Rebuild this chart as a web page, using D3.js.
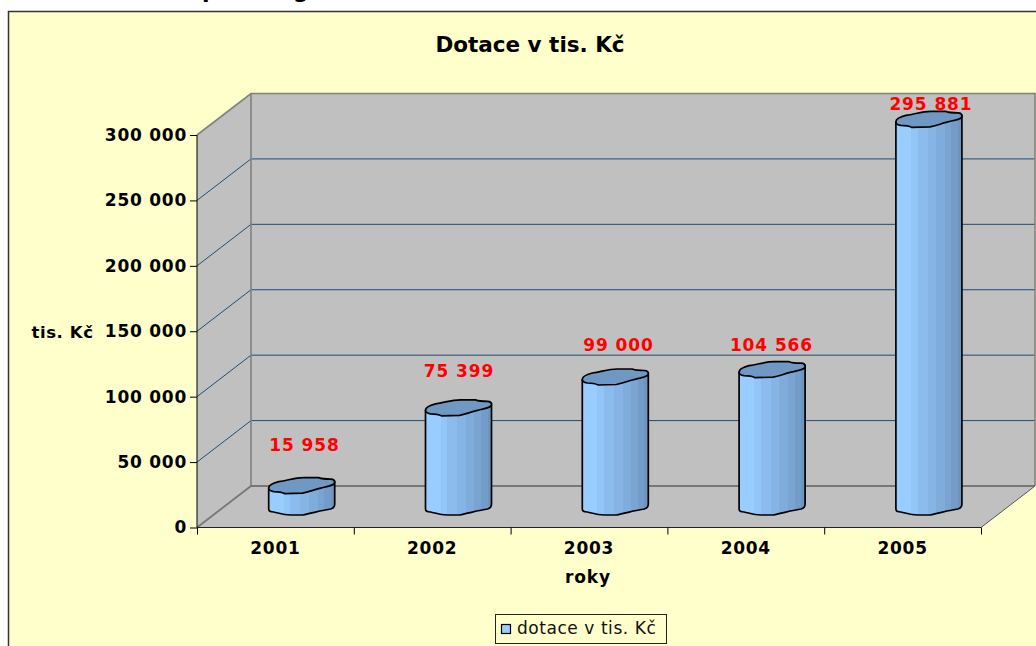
<!DOCTYPE html>
<html><head><meta charset="utf-8">
<script src="https://cdn.jsdelivr.net/npm/d3@7"></script>
<style>html,body{margin:0;padding:0;background:#fff}svg{display:block}text{font-family:"DejaVu Sans",Verdana,sans-serif}</style>
</head><body><svg id="c" width="1036" height="646"></svg>
<script>
const years=["2001","2002","2003","2004","2005"];
const dotace=[15958,75399,99000,104566,295881];
const labels=["15 958","75 399","99 000","104 566","295 881"];
const yTicks=[0,50000,100000,150000,200000,250000,300000];
const tickLabels=["0","50 000","100 000","150 000","200 000","250 000","300 000"];
const seriesName="dotace v tis. Kč", chartTitle="Dotace v tis. Kč", yTitle="tis. Kč", xTitle="roky";
const svg=d3.select("#c");
const defs=svg.append("defs");
const grad=defs.append("linearGradient").attr("id","cyl");
const bands=[[0,.23,"#99ccff"],[.23,.33,"#92c5f8"],[.33,.48,"#8cbcee"],[.48,.61,"#86b4e5"],[.61,.74,"#80acdb"],[.74,.84,"#7aa4d2"],[.84,.94,"#749cc8"],[.94,1,"#6e95bf"]];
bands.forEach(b=>{grad.append("stop").attr("offset",b[0]).attr("stop-color",b[2]);grad.append("stop").attr("offset",b[1]).attr("stop-color",b[2]);});
svg.append("rect").attr("x",8.5).attr("y",11.5).attr("width",1040).attr("height",650).attr("fill","#ffffcc").attr("stroke","#333").attr("stroke-width",1.5);
// heading above the chart, cropped by the picture's top edge: only descenders show
svg.append("text").attr("x",202).attr("y",-2).attr("font-size",22).attr("font-weight","bold").text("p");
svg.append("text").attr("x",293).attr("y",-2).attr("font-size",22).attr("font-weight","bold").text("g");
const y=d3.scaleLinear().domain([0,300000]).range([527.5,135]);
const x=d3.scaleBand().domain(years).range([197,981]);
const dx=54,dy=-41.5;
const wallTop=y(300000)+dy, wallBottom=y(0)+dy, wallL=197+dx, wallR=1035;
svg.append("polygon").attr("points",[[197,y(300000)],[wallL,wallTop],[wallL,wallBottom],[197,y(0)]].join(" ")).attr("fill","#c0c0c0");
svg.append("rect").attr("x",wallL).attr("y",wallTop).attr("width",wallR-wallL).attr("height",wallBottom-wallTop).attr("fill","#c0c0c0");
svg.append("polygon").attr("points",[[197,y(0)],[wallL,wallBottom],[wallR,wallBottom],[981,y(0)]].join(" ")).attr("fill","#c0c0c0");
yTicks.slice(1,-1).forEach(t=>{
 svg.append("path").attr("d",`M197,${y(t)}L${wallL},${y(t)+dy}H${wallR}`).attr("fill","none").attr("stroke","#1f4e79").attr("stroke-width",1);
});
const grey="#808080";
svg.append("path").attr("d",`M197,${y(300000)}L${wallL},${wallTop}H${wallR}V${wallBottom}`).attr("fill","none").attr("stroke",grey).attr("stroke-width",1.6);
svg.append("path").attr("d",`M${wallL},${wallTop}V${wallBottom}`).attr("fill","none").attr("stroke",grey).attr("stroke-width",1.6);
svg.append("path").attr("d",`M197,${y(0)}L${wallL},${wallBottom}H${wallR}`).attr("fill","none").attr("stroke","#777").attr("stroke-width",1.8);
svg.append("path").attr("d",`M981,${y(0)}L${wallR},${wallBottom}`).attr("fill","none").attr("stroke","#555").attr("stroke-width",1);
const yAxis=d3.axisLeft(y).tickValues(yTicks).tickFormat((d,i)=>tickLabels[i]).tickSize(7).tickPadding(3);
const ga=svg.append("g").attr("transform","translate(197,0)").call(yAxis);
ga.select(".domain").attr("stroke","#000").attr("d",`M0,${y(300000)}V${y(0)}`);
ga.selectAll("text").attr("font-size",17).attr("font-weight","bold").attr("fill","#000").style("letter-spacing","0.75px");
const xAxis=d3.axisBottom(d3.scaleLinear().domain([0,5]).range([197,981])).ticks(5).tickSize(7).tickFormat("");
const gx=svg.append("g").attr("transform",`translate(0,${y(0)})`).call(xAxis);
gx.select(".domain").attr("d","M197,0H981").attr("stroke","#222");
const barW=66;
const offX=(x.bandwidth()-barW)/2+dx/2-0.7;
const baseY=507;
const yBar=v=>baseY-(y(0)-y(v));
years.forEach((yr,i)=>{
 const L=x(yr)+offX, R=L+barW, t=yBar(dotace[i]);
 const g=svg.append("g");
 g.append("path").attr("d",`M${L},${t+2}V${baseY+2}Q${L},${baseY+5} ${L+5},${baseY+5}C${L+10},${baseY+6} ${L+14},${baseY+8} ${L+22},${baseY+8}L${L+34},${baseY+8}C${L+44},${baseY+6} ${L+54},${baseY+3} ${R-4},${baseY+2}Q${R},${baseY+1} ${R},${baseY-3}V${t-5}Z`)
  .attr("fill","url(#cyl)").attr("stroke","#000").attr("stroke-width",1.7).attr("stroke-linejoin","round");
 g.append("path").attr("d",`M${L},${t+2}C${L},${t-1} ${L+4},${t-3} ${L+10},${t-4.5}C${L+20},${t-6} ${L+26},${t-8.5} ${L+35},${t-8.5}L${L+50},${t-8.5}C${L+54},${t-7} ${L+58},${t-7} ${L+62},${t-7}C${L+65},${t-7} ${R},${t-6} ${R},${t-3.5}C${R},${t-1} ${L+60},${t} ${L+52},${t+2}C${L+44},${t+4} ${L+40},${t+6} ${L+34},${t+7}L${L+16},${t+7.5}C${L+12},${t+5.5} ${L+8},${t+5.5} ${L+5},${t+5.5}C${L+2},${t+5} ${L},${t+4} ${L},${t+2}Z`)
  .attr("fill","#6f99c4").attr("stroke","#000").attr("stroke-width",1.7).attr("stroke-linejoin","round");
});
const labelY=[451,377,351,351,110];
const labelX=[304.5,459,618.5,771.5,931];
labels.forEach((l,i)=>svg.append("text").attr("x",labelX[i]).attr("y",labelY[i]).attr("text-anchor","middle").attr("font-size",17).attr("font-weight","bold").attr("fill","#ff0000").style("letter-spacing","0.9px").text(l));
years.forEach(yr=>svg.append("text").attr("x",x(yr)+x.bandwidth()/2).attr("y",554).attr("text-anchor","middle").attr("font-size",17).attr("font-weight","bold").style("letter-spacing","0.75px").text(yr));
svg.append("text").attr("x",588).attr("y",583).attr("text-anchor","middle").attr("font-size",17).attr("font-weight","bold").style("letter-spacing","0.9px").text(xTitle);
svg.append("text").attr("x",62.5).attr("y",338).attr("text-anchor","middle").attr("font-size",16.5).attr("font-weight","bold").style("letter-spacing","0.6px").text(yTitle);
svg.append("text").attr("x",530).attr("y",52).attr("text-anchor","middle").attr("font-size",21.5).attr("font-weight","bold").text(chartTitle);
svg.append("rect").attr("x",495.5).attr("y",614.5).attr("width",171).attr("height",29).attr("fill","#ffffcc").attr("stroke","#222");
svg.append("rect").attr("x",501.5).attr("y",624.5).attr("width",9).attr("height",9).attr("fill","#99ccff").attr("stroke","#000").attr("stroke-width",1.2);
svg.append("text").attr("x",517).attr("y",634).attr("font-size",17).attr("fill","#111").style("letter-spacing","0.55px").text(seriesName);
</script></body></html>
